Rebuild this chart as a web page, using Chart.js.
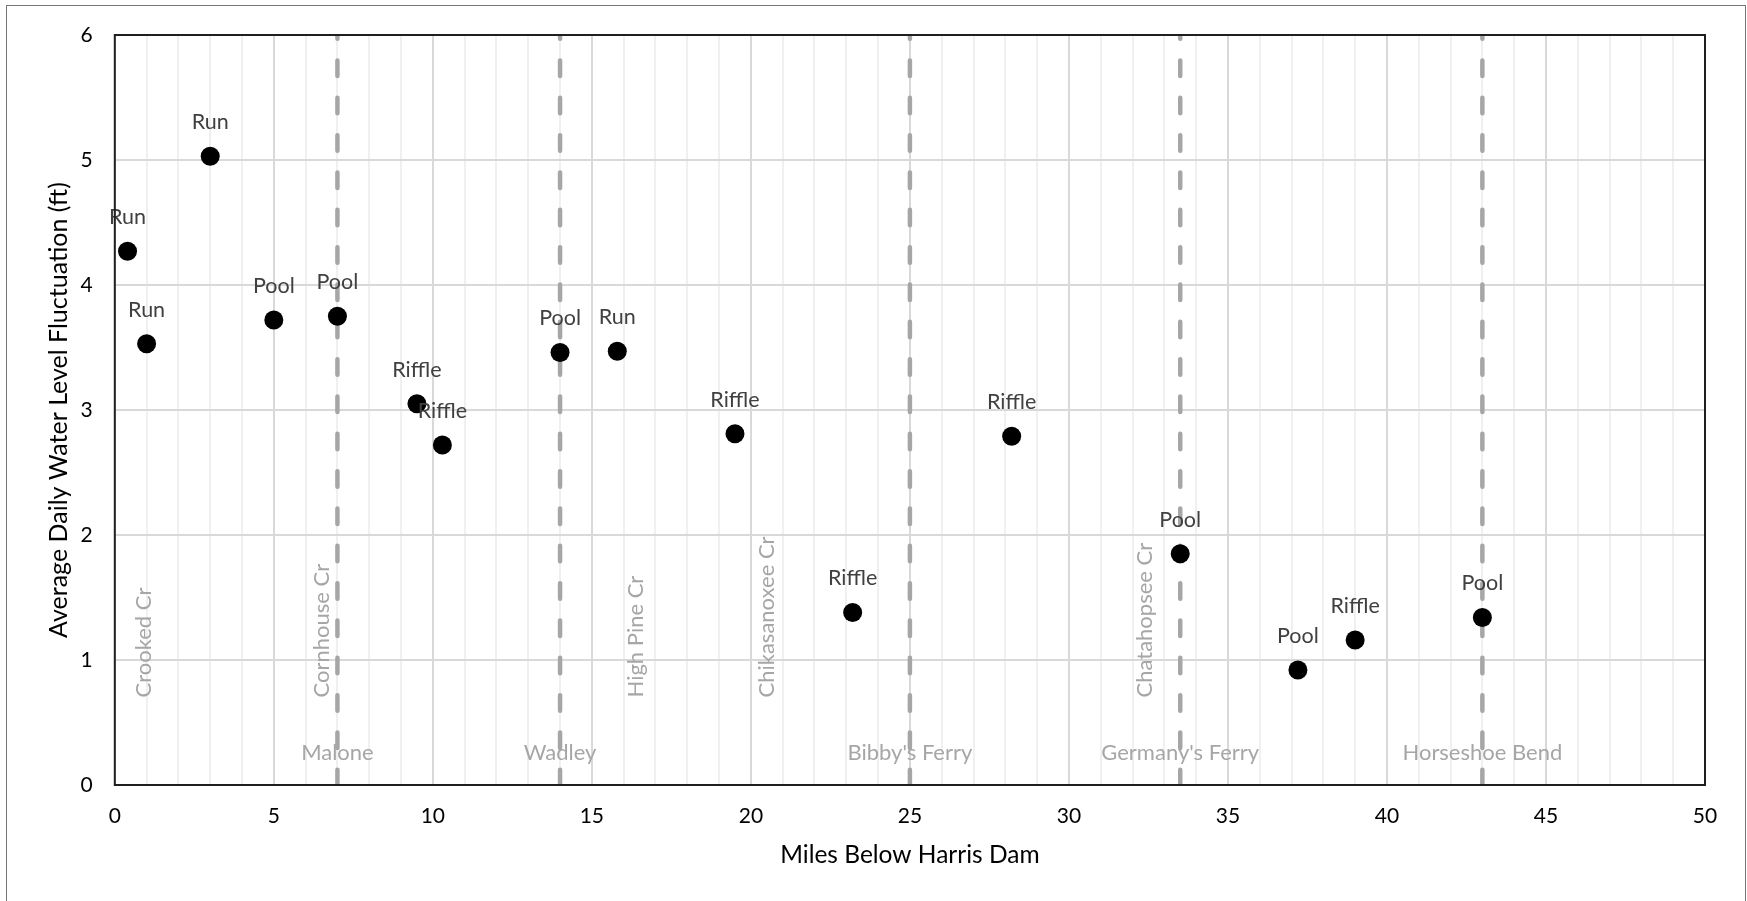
<!DOCTYPE html>
<html lang="en">

<head>
    <meta charset="UTF-8">
    <title>Average Daily Water Level Fluctuation</title>
    <script src="https://cdn.jsdelivr.net/npm/chart.js"></script>
    <style>
        * {
            margin: 0;
            padding: 0;
            box-sizing: border-box;
        }

        body {
            background-color: #fff;
            width: 1747px;
            height: 901px;
            overflow: hidden;
            position: relative;
        }

        /* outer chart frame, bottom edge runs off the page */
        .frame {
            position: absolute;
            left: 6px;
            top: 5px;
            width: 1740px;
            height: 1000px;
            border: 1px solid #767676;
        }

        #chart {
            position: absolute;
            left: 0;
            top: 0;
        }
    </style>
</head>

<body>
    <div class="frame"></div>
    <canvas id="chart" width="1747" height="901"></canvas>

    <script>
        // sampling sites
        const miles = [0.4, 1.0, 3.0, 5.0, 7.0, 9.5, 10.3, 14.0, 15.8, 19.5, 23.2, 28.2, 33.5, 37.2, 39.0, 43.0];
        const fluctuation = [4.27, 3.53, 5.03, 3.72, 3.75, 3.05, 2.72, 3.46, 3.47, 2.81, 1.38, 2.79, 1.85, 0.92, 1.16, 1.34];
        const habitat = ['Run', 'Run', 'Run', 'Pool', 'Pool', 'Riffle', 'Riffle', 'Pool', 'Run', 'Riffle',
            'Riffle', 'Riffle', 'Pool', 'Pool', 'Riffle', 'Pool'];

        // gauges (dashed lines) and creek mouths
        const gaugeNames = ['Malone', 'Wadley', "Bibby's Ferry", "Germany's Ferry", 'Horseshoe Bend'];
        const gaugeMiles = [7, 14, 25, 33.5, 43];
        const creekNames = ['Crooked Cr', 'Cornhouse Cr', 'High Pine Cr', 'Chikasanoxee Cr', 'Chatahopsee Cr'];
        const creekMiles = [0.9, 6.5, 16.4, 20.5, 32.4];

        // tick labels
        const xTickLabels = [0, 5, 10, 15, 20, 25, 30, 35, 40, 45, 50];
        const yTickLabels = [0, 1, 2, 3, 4, 5, 6];

        const FONT = 'Lato, sans-serif';
        const yTop = yTickLabels[yTickLabels.length - 1];

        const gaugeSets = gaugeMiles.map(m => ({
            data: [{ x: m, y: yTop }, { x: m, y: yTickLabels[0] }],
            showLine: true,
            borderColor: '#a6a6a6',
            borderWidth: 4.5,
            borderDash: [15.5, 21.83],
            borderDashOffset: 11.8,
            borderCapStyle: 'round',
            pointRadius: 0,
            clip: 0,
            order: 2
        }));

        const textPlugin = {
            id: 'texts',
            afterDatasetsDraw(chart) {
                const { ctx, chartArea, scales: { x, y } } = chart;
                ctx.save();

                // habitat labels above each point
                ctx.font = '21.5px ' + FONT;
                ctx.fillStyle = '#404040';
                ctx.textAlign = 'center';
                ctx.textBaseline = 'middle';
                chart.getDatasetMeta(0).data.forEach((pt, i) => {
                    ctx.fillText(habitat[i], pt.x, pt.y - 34);
                });

                // gauge names
                ctx.font = '22px ' + FONT;
                ctx.fillStyle = '#a6a6a6';
                gaugeNames.forEach((name, i) => {
                    ctx.fillText(name, x.getPixelForValue(gaugeMiles[i]), y.getPixelForValue(0.26));
                });

                // creek names, rotated
                ctx.textAlign = 'left';
                creekNames.forEach((name, i) => {
                    ctx.save();
                    ctx.translate(x.getPixelForValue(creekMiles[i]), y.getPixelForValue(0.7));
                    ctx.rotate(-Math.PI / 2);
                    ctx.fillText(name, 0, 0);
                    ctx.restore();
                });

                // plot area border
                ctx.strokeStyle = '#1f1f1f';
                ctx.lineWidth = 2;
                ctx.strokeRect(chartArea.left, chartArea.top, chartArea.right - chartArea.left, chartArea.bottom - chartArea.top);
                ctx.restore();
            }
        };

        const ctx = document.getElementById('chart').getContext('2d');
        new Chart(ctx, {
            type: 'scatter',
            data: {
                datasets: [{
                    data: miles.map((m, i) => ({ x: m, y: fluctuation[i] })),
                    backgroundColor: '#000',
                    borderColor: '#000',
                    borderWidth: 0,
                    pointRadius: 9.5,
                    order: 1
                }, ...gaugeSets]
            },
            options: {
                responsive: false,
                animation: false,
                events: [],
                layout: { padding: { top: 35, right: 42, left: 0, bottom: 0 } },
                plugins: {
                    legend: { display: false },
                    tooltip: { enabled: false }
                },
                scales: {
                    x: {
                        type: 'linear',
                        min: xTickLabels[0],
                        max: xTickLabels[xTickLabels.length - 1],
                        afterFit: s => { s.height = 116; },
                        ticks: {
                            stepSize: 1,
                            autoSkip: false,
                            maxRotation: 0,
                            padding: 19,
                            color: '#000',
                            font: { family: FONT, size: 21 },
                            callback: v => xTickLabels.includes(v) ? String(v) : ''
                        },
                        grid: {
                            drawTicks: false,
                            lineWidth: 2,
                            color: c => (c.tick && c.tick.value % 5 === 0) ? '#d9d9d9' : '#f0f0f0'
                        },
                        border: { display: false },
                        title: {
                            display: true,
                            text: 'Miles Below Harris Dam',
                            color: '#000',
                            font: { family: FONT, size: 24.5 },
                            padding: { top: 0, bottom: 31 }
                        }
                    },
                    y: {
                        min: yTickLabels[0],
                        max: yTop,
                        afterFit: s => { s.width = 114.8; },
                        ticks: {
                            stepSize: 1,
                            padding: 22,
                            color: '#000',
                            font: { family: FONT, size: 21 },
                            callback: v => yTickLabels.includes(v) ? String(v) : ''
                        },
                        grid: {
                            drawTicks: false,
                            lineWidth: 2,
                            color: '#d9d9d9'
                        },
                        border: { display: false },
                        title: {
                            display: true,
                            text: 'Average Daily Water Level Fluctuation (ft)',
                            color: '#000',
                            font: { family: FONT, size: 25 },
                            padding: { top: 44, bottom: 0 }
                        }
                    }
                }
            },
            plugins: [textPlugin]
        });
    </script>
</body>

</html>
